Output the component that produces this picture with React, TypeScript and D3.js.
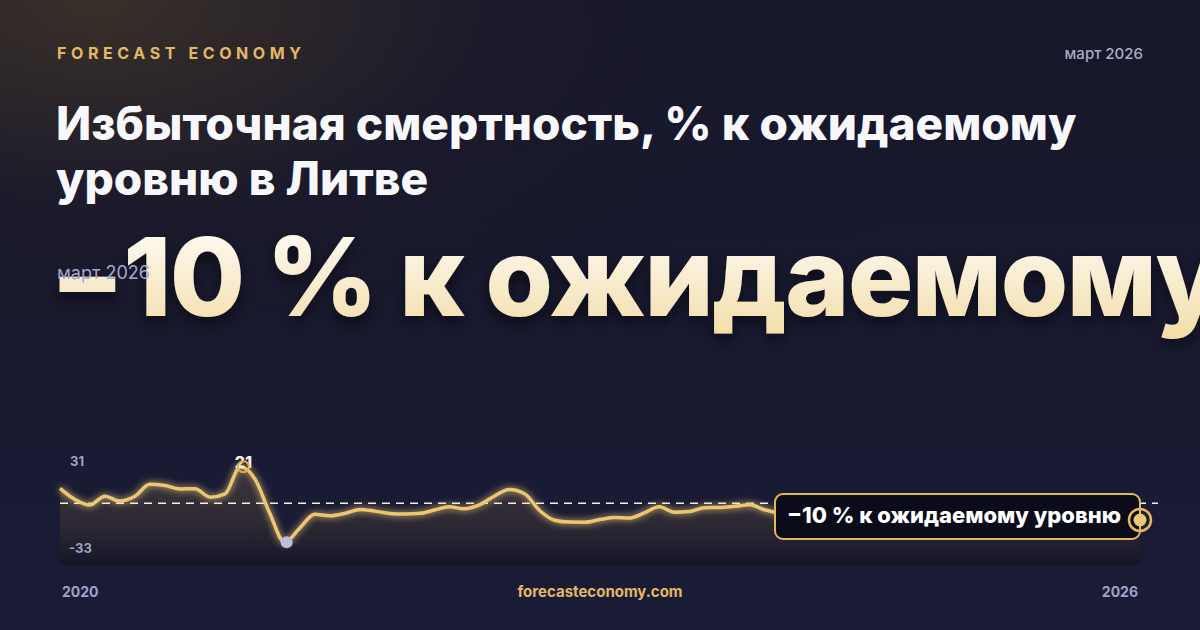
import React, { useEffect } from "react";
import * as d3 from "d3";

// monthly excess mortality, % vs expected, Lithuania
const startMonth = new Date(2020, 0, 1);
const values = [
  12.7, 3.1, -1.5, 6.0, 1.9, 5.9, 16.1, 15.0, 12.2, 12.3, 5.2, 8.0,
  31, 19.7, -7.6, -33, -21.3, -9.3, -10.5, -8.5, -5.2, -6.6, -8.6, -9.1,
  -8.5, -5.5, -3.0, -4.7, -1.4, 6.2, 11.6, 8.1, -6.3, -14.3, -15.9, -16.0,
  -13.7, -12.1, -12.5, -8.1, -3.0, -7.5, -7.0, -3.7, -3.5, -2.5, -1.3, -5.4,
  -8.2, -9.9, -7.4, -5.7, -6.5, -9.1, -10.8, -8.2, -6.5, -7.4, -9.9, -11.6,
  -9.9, -8.2, -9.1, -10.8, -12.4, -10.8, -9.9, -11.6, -13.3, -12.4, -11.6, -13.3,
  -14.1,
];
const yExtent = [-33, 31];
const yTickLabels = ["31", "-33"];
const xTickLabels = ["2020", "2026"];
const peakLabel = "21";
const headline = "−10 % к ожидаемому";
const calloutText = "−10 % к ожидаемому уровню";
const titleLines = ["Избыточная смертность, % к ожидаемому", "уровню в Литве"];
const brand = "FORECAST ECONOMY";
const dateLabel = "март 2026";
const site = "forecasteconomy.com";

const W = 1200;
const H = 630;
const FONT = "Inter, 'Noto Sans', sans-serif";
const GOLD = "#ebc673";

type Pt = { date: Date; value: number };

export default function App() {
  useEffect(() => {
    document.body.style.margin = "0";
    document.body.style.background = "#16162a";
  }, []);

  const data: Pt[] = values.map((v, i) => ({
    date: d3.timeMonth.offset(startMonth, i),
    value: v,
  }));

  const x = d3
    .scaleTime()
    .domain([data[0].date, data[data.length - 1].date])
    .range([60, 1140]);
  const y = d3.scaleLinear().domain(yExtent).range([542.3, 466.7]);
  const areaBottom = 565;

  const line = d3
    .line<Pt>()
    .x((d) => x(d.date))
    .y((d) => y(d.value))
    .curve(d3.curveMonotoneX);
  const area = d3
    .area<Pt>()
    .x((d) => x(d.date))
    .y0(areaBottom)
    .y1((d) => y(d.value))
    .curve(d3.curveMonotoneX);

  const peak = data.reduce((a, b) => (b.value > a.value ? b : a));
  const low = data.reduce((a, b) => (b.value < a.value ? b : a));
  const last = data[data.length - 1];

  return (
    <svg width={W} height={H} style={{ display: "block" }} fontFamily={FONT}>
      <defs>
        <radialGradient id="warm" cx="0.08" cy="0" r="0.75">
          <stop offset="0" stopColor="#3a3029" />
          <stop offset="0.45" stopColor="#1b1a2b" />
          <stop offset="1" stopColor="#17172f" stopOpacity="0" />
        </radialGradient>
        <linearGradient id="bg" x1="0" y1="0" x2="0" y2="1">
          <stop offset="0" stopColor="#17172a" />
          <stop offset="1" stopColor="#1a1b36" />
        </linearGradient>
        <linearGradient id="headFill" x1="0" y1="0" x2="0" y2="1">
          <stop offset="0" stopColor="#ffffff" />
          <stop offset="1" stopColor="#f2dca6" />
        </linearGradient>
        <linearGradient id="areaFill" x1="0" y1="0" x2="0" y2="1">
          <stop offset="0" stopColor="#c9a05a" stopOpacity="0.18" />
          <stop offset="1" stopColor="#0c0b12" stopOpacity="0.35" />
        </linearGradient>
        <filter id="glow" x="-10%" y="-50%" width="120%" height="200%">
          <feGaussianBlur stdDeviation="3.5" result="b" />
          <feMerge>
            <feMergeNode in="b" />
            <feMergeNode in="SourceGraphic" />
          </feMerge>
        </filter>
        <filter id="shadow" x="-5%" y="-20%" width="110%" height="150%">
          <feDropShadow dx="0" dy="6" stdDeviation="7" floodColor="#000" floodOpacity="0.5" />
        </filter>
      </defs>

      <rect width={W} height={H} fill="url(#bg)" />
      <rect width={W} height={H} fill="url(#warm)" />

      <text x={57} y={59} fill="#e2b865" fontSize={16} fontWeight={700} letterSpacing={4.6}>
        {brand}
      </text>
      <text x={1143} y={59} fill="#a9acc8" fontSize={15} fontWeight={500} textAnchor="end">
        {dateLabel}
      </text>

      {titleLines.map((t, i) => (
        <text key={i} x={56} y={139.5 + i * 55.5} fill="#f8f8fc" fontSize={46} fontWeight={800} letterSpacing={0}>
          {t}
        </text>
      ))}

      <text x={50} y={316} fill="url(#headFill)" fontSize={109} fontWeight={800} letterSpacing={-1.5} filter="url(#shadow)">
        {headline}
      </text>
      <text x={57} y={279} fill="#a3a8cc" fontSize={18} fontWeight={400}>
        {dateLabel}
      </text>

      {/* chart */}
      <path d={area(data) ?? ""} fill="url(#areaFill)" />
      <line x1={60} x2={1158} y1={y(0)} y2={y(0)} stroke="#f4f1ea" strokeWidth={1.5} strokeDasharray="8 6" />
      <path d={line(data) ?? ""} fill="none" stroke={GOLD} strokeWidth={3.5} strokeLinejoin="round" filter="url(#glow)" />

      <text x={70} y={466} fill="#9ea3c4" fontSize={13} fontWeight={700}>
        {yTickLabels[0]}
      </text>
      <text x={69} y={552.5} fill="#9ea3c4" fontSize={13} fontWeight={700}>
        {yTickLabels[1]}
      </text>

      <text x={x(peak.date) + 3} y={468} fill="#f3f0e6" fontSize={16} fontWeight={800} textAnchor="middle">
        {peakLabel}
      </text>
      <circle cx={x(peak.date) + 3} cy={y(peak.value)} r={5.5} fill="none" stroke="#d9b05a" strokeWidth={2} />
      <circle cx={x(low.date) + 2} cy={y(low.value)} r={6} fill="#b9bfdc" />

      <rect x={775} y={494} width={365} height={45} rx={8} fill="#0b0b1a" stroke="#e2b85c" strokeWidth={2} />
      <text x={787} y={523} fill="#ffffff" fontSize={22} fontWeight={800}>
        {calloutText}
      </text>
      <circle cx={x(last.date)} cy={y(last.value)} r={11} fill="none" stroke="#e2b85c" strokeWidth={2.5} />
      <circle cx={x(last.date)} cy={y(last.value)} r={6.5} fill="#e9c878" />

      <text x={62} y={597} fill="#9ea3c4" fontSize={14} fontWeight={700}>
        {xTickLabels[0]}
      </text>
      <text x={600} y={597} fill="#e2b865" fontSize={15} fontWeight={700} textAnchor="middle">
        {site}
      </text>
      <text x={1138} y={597} fill="#9ea3c4" fontSize={14} fontWeight={700} textAnchor="end">
        {xTickLabels[1]}
      </text>
    </svg>
  );
}
